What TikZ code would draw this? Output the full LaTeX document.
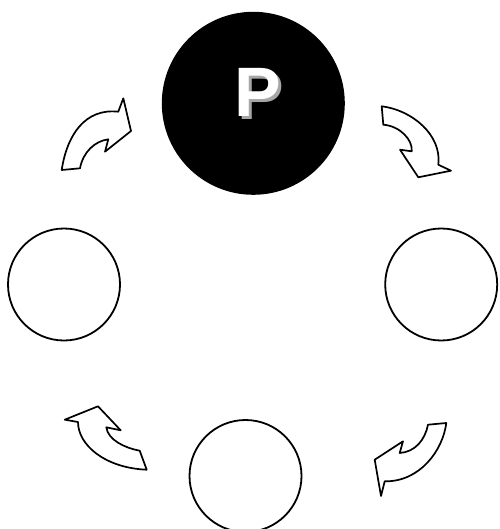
\documentclass[tikz,border=0pt]{standalone}
\usepackage{fontspec}
\setmainfont{Liberation Sans}
\usetikzlibrary{positioning}

\begin{document}
\begin{tikzpicture}[x=1pt,y=-1pt,line join=round,
  stage/.style={circle,draw=black,line width=1.8pt,fill=white,
    minimum size=112pt,inner sep=0pt},
  hub/.style={circle,fill=black,minimum size=183pt,inner sep=0pt},
  turn/.style={draw=black,fill=white,line width=1.7pt},
  letter/.style={font=\fontsize{70}{70}\selectfont\bfseries,inner sep=0pt}]
\useasboundingbox (0,0) rectangle (499,529);
% centre and the three outer stages
\node[hub] (hub) at (253.3,103.3) {};
\node[letter,text=white] (pMark) at (257.5,94)
  {\rlap{\hspace{3pt}\raisebox{-2.5pt}{\textcolor{gray!70}{P}}}P};
\node[stage] (sLeft) at (64,284.5) {};
\node[stage] (sRight) at (441.2,284.5) {};
\node[stage] (sBottom) at (245.5,476) {};
% curved arrows round the cycle
\draw[turn] (61.7,170) -- (80,168.3)
  .. controls (83,152) and (95,141) .. (108.3,139.3)
  -- (105,151.7) -- (131,131) -- (123.3,98.3) -- (118.3,111.7)
  .. controls (85,108) and (67,135) .. cycle;
\draw[turn] (381.7,106.3)
  .. controls (412,110) and (442,135) .. (438.3,164.7)
  -- (451,170.7) -- (418.3,177.3) -- (400,149.7) -- (411.7,151.3)
  .. controls (413,140) and (400,126) .. (383.3,124.7) -- cycle;
\draw[turn] (428,424.7) -- (446.3,423)
  .. controls (443,450) and (420,482) .. (384.7,481.3)
  -- (381,496) -- (374.7,459.7) -- (403,441.3) -- (399.7,453)
  .. controls (415,452) and (425,440) .. cycle;
\draw[turn] (146.7,469.7) -- (139.7,450.7)
  .. controls (125,448) and (108,440) .. (106.3,427.3)
  -- (120.7,430.3) -- (98,406.3) -- (64.7,419.7) -- (78,422)
  .. controls (78,445) and (105,468) .. cycle;
\end{tikzpicture}
\end{document}
